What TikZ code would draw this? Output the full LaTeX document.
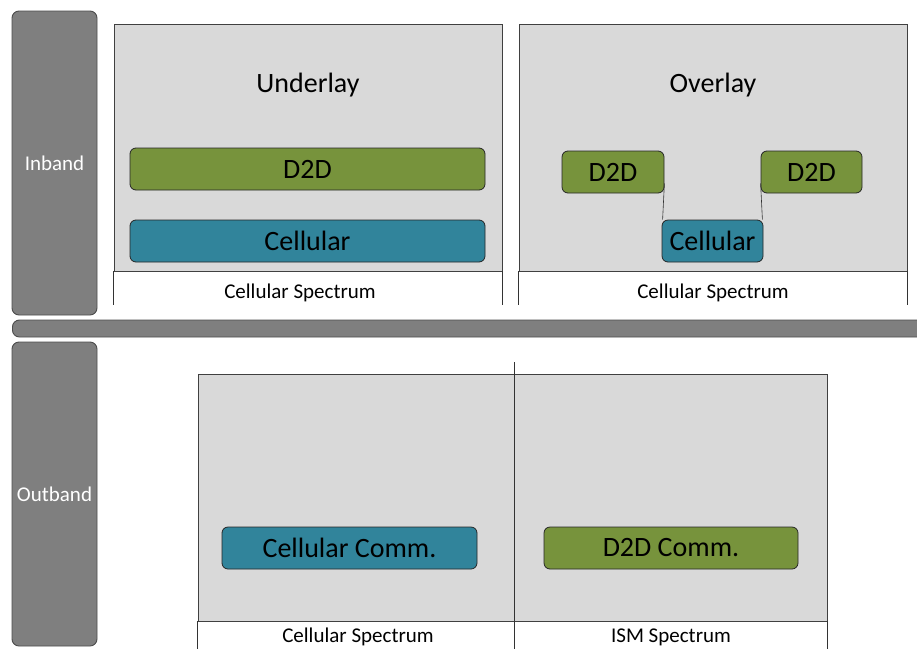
\documentclass[tikz,border=0pt]{standalone}
\usepackage{fontspec}
\setmainfont{Carlito}
\definecolor{bandgray}{HTML}{7F7F7F}
\definecolor{panelgray}{HTML}{D9D9D9}
\definecolor{d2dgreen}{HTML}{77933C}
\definecolor{cellblue}{HTML}{31849B}
\begin{document}
\begin{tikzpicture}[x=1pt,y=-1pt,
  band/.style={draw=black!70, fill=bandgray, rounded corners=7pt, line width=0.9pt,
    text=white, font=\fontsize{21}{24}\selectfont, inner sep=0pt},
  panel/.style={draw=black!75, fill=panelgray, line width=0.8pt, inner sep=0pt},
  edge/.style={draw=black!80, line width=0.8pt},
  title/.style={font=\fontsize{28}{32}\selectfont, inner sep=0pt},
  speclabel/.style={font=\fontsize{21}{24}\selectfont, inner sep=0pt},
  d2dbox/.style={draw=black!85, fill=d2dgreen, rounded corners=6pt, line width=0.8pt,
    font=\fontsize{28}{32}\selectfont, inner sep=0pt},
  cellbox/.style={draw=black!85, fill=cellblue, rounded corners=6pt, line width=0.8pt,
    font=\fontsize{28}{32}\selectfont, inner sep=0pt}]
\useasboundingbox (0,0) rectangle (917,648);
\clip (0,0) rectangle (917,648);

% side bands and separator
\node[band, minimum width=85, minimum height=304] (inband) at (54.5,163) {Inband};
\node[band, minimum width=85, minimum height=304] (outband) at (54.5,494) {Outband};
\node[band, minimum width=930, minimum height=17, anchor=west] (split) at (12,328.5) {};

% underlay panel
\node[panel, minimum width=388, minimum height=247] (under) at (308,147.5) {};
\node[title] (underT) at (308,85) {Underlay};
\node[d2dbox, minimum width=355, minimum height=42] (uD2D) at (307.5,169) {D2D};
\node[cellbox, minimum width=355, minimum height=42] (uCell) at (307.5,241) {Cellular};
\node[speclabel] (uSpec) at (300,293) {Cellular Spectrum};
\draw[edge] (under.south west) -- ++(0,34);
\draw[edge] (under.south east) -- ++(0,34);

% overlay panel
\node[panel, minimum width=388, minimum height=247] (over) at (713,147.5) {};
\node[title] (overT) at (713,85) {Overlay};
\node[d2dbox, minimum width=102, minimum height=42] (oD2Da) at (613,172) {D2D};
\node[d2dbox, minimum width=101, minimum height=42] (oD2Db) at (811.5,172) {D2D};
\node[cellbox, minimum width=101, minimum height=42] (oCell) at (712.5,241) {Cellular};
\node[speclabel] (oSpec) at (713,293) {Cellular Spectrum};
\draw[edge] (over.south west) -- ++(0,34);
\draw[edge] (over.south east) -- ++(0,34);
\draw[edge, line width=0.6pt] ([yshift=10pt]oD2Da.south east) -- ([xshift=1pt]oCell.north west);
\draw[edge, line width=0.6pt] ([yshift=10pt]oD2Db.south west) -- ([xshift=-1pt]oCell.north east);

% outband panels
\node[panel, minimum width=316, minimum height=247] (cPanel) at (356,497.5) {};
\node[panel, minimum width=313, minimum height=247] (iPanel) at (670.5,497.5) {};
\coordinate (divTop) at (514,362);
\coordinate (divBot) at (514,650);
\draw[edge] (divTop) -- (divBot);
\draw[edge] (cPanel.south west) -- ++(0,30);
\draw[edge] (iPanel.south east) -- ++(0,30);
\node[cellbox, minimum width=255, minimum height=42] (cComm) at (349.5,548) {Cellular Comm.};
\node[d2dbox, minimum width=254, minimum height=42] (dComm) at (671,548) {D2D Comm.};
\node[speclabel] (cSpec) at (358,637) {Cellular Spectrum};
\node[speclabel] (iSpec) at (671,637) {ISM Spectrum};
\end{tikzpicture}
\end{document}
